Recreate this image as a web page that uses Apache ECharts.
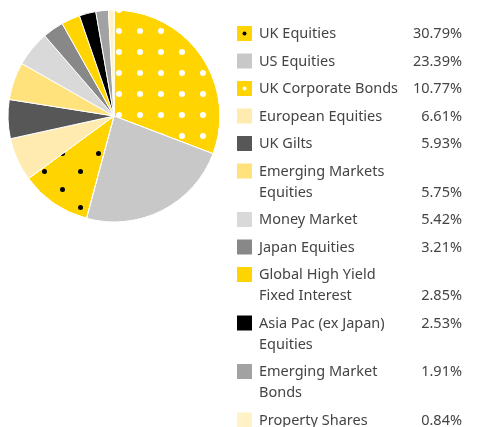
<!DOCTYPE html>
<html>
<head>
<meta charset="utf-8">
<script src="https://cdn.jsdelivr.net/npm/echarts@6/dist/echarts.min.js"></script>
<style>
  html, body { margin: 0; padding: 0; background: #fff; }
  #chart { width: 479px; height: 427px; }
</style>
</head>
<body>
<div id="chart"></div>
<script>
// asset allocation, % of fund
const names = ['UK Equities', 'US Equities', 'UK Corporate Bonds', 'European Equities', 'UK Gilts',
  'Emerging Markets Equities', 'Money Market', 'Japan Equities', 'Global High Yield Fixed Interest',
  'Asia Pac (ex Japan) Equities', 'Emerging Market Bonds', 'Property Shares'];
const legendLabels = ['UK Equities', 'US Equities', 'UK Corporate Bonds', 'European Equities', 'UK Gilts',
  'Emerging Markets\nEquities', 'Money Market', 'Japan Equities', 'Global High Yield\nFixed Interest',
  'Asia Pac (ex Japan)\nEquities', 'Emerging Market\nBonds', 'Property Shares'];
const weights = [30.79, 23.39, 10.77, 6.61, 5.93, 5.75, 5.42, 3.21, 2.85, 2.53, 1.91, 0.84];
const pctLabels = ['30.79%', '23.39%', '10.77%', '6.61%', '5.93%', '5.75%', '5.42%', '3.21%', '2.85%', '2.53%', '1.91%', '0.84%'];
// which line of the legend label the percentage sits on
const pctRow = [0, 0, 0, 0, 0, 1, 0, 0, 1, 0, 0, 0];

const colors = ['#FFD400', '#C8C8C8', '#FFD400', '#FFEBB0', '#575757', '#FFE27C',
  '#D9D9D9', '#888888', '#FFD400', '#000000', '#A2A2A2', '#FFF2C6'];

// dot patterns on the two dotted slices
const whiteDots = {
  symbol: 'circle', symbolSize: 1, color: '#fff',
  dashArrayX: [0, 11, 6, 4], dashArrayY: [0, 7, 6, 8], rotation: 0
};
// staggered rows (empty rows in between so the offsets alternate)
const blackDots = {
  symbol: 'circle', symbolSize: 1, color: '#000',
  dashArrayX: [[0, 36], [0, 6, 5, 25], [0, 36], [0, 24, 5, 7]],
  dashArrayY: [0, 7, 5, 6], rotation: 0
};
const decals = { 0: whiteDots, 2: blackDots };
const legendDot = { 0: '#000', 2: '#fff' };

const chart = echarts.init(document.getElementById('chart'));

const font = '14.5px "Noto Sans"';
const textColor = '#444';
const legendEls = [];
let y = 34;
names.forEach((n, i) => {
  legendEls.push({
    type: 'rect',
    shape: { x: 237, y: y - 8, width: 15, height: 15 },
    style: { fill: colors[i] }
  });
  if (legendDot[i]) {
    legendEls.push({
      type: 'circle',
      shape: { cx: 244.5, cy: y - 0.5, r: 2 },
      style: { fill: legendDot[i] }
    });
  }
  const lines = legendLabels[i].split('\n');
  lines.forEach((line, k) => {
    legendEls.push({
      type: 'text',
      style: {
        text: line, x: 259, y: y + k * 21, font: font, fill: textColor,
        textAlign: 'left', textVerticalAlign: 'middle', align: 'left', verticalAlign: 'middle'
      }
    });
  });
  legendEls.push({
    type: 'text',
    style: {
      text: pctLabels[i], x: 462, y: y + pctRow[i] * 21, font: font, fill: textColor,
      textAlign: 'right', textVerticalAlign: 'middle', align: 'right', verticalAlign: 'middle'
    }
  });
  y += (lines.length - 1) * 21 + 27.5;
});

chart.setOption({
  animation: false,
  graphic: { elements: legendEls },
  series: [{
    type: 'pie',
    center: [114, 116],
    radius: [0, 106],
    startAngle: 90,
    clockwise: true,
    label: { show: false },
    labelLine: { show: false },
    emphasis: { disabled: true },
    itemStyle: { borderColor: '#fff', borderWidth: 1 },
    data: names.map((n, i) => ({
      name: n,
      value: weights[i],
      itemStyle: Object.assign({ color: colors[i] }, decals[i] ? { decal: decals[i] } : {})
    }))
  }]
});
</script>
</body>
</html>
